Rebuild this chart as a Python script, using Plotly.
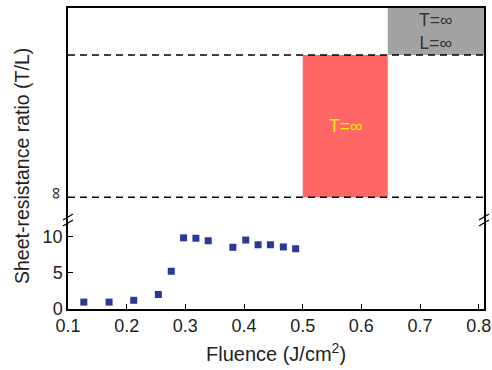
import plotly.graph_objects as go

# Data
fluence = [0.127, 0.170, 0.212, 0.254, 0.276, 0.297, 0.318, 0.339, 0.381, 0.403, 0.424, 0.445, 0.467, 0.488]
ratio = [0.95, 0.95, 1.2, 2.0, 5.2, 9.8, 9.75, 9.4, 8.5, 9.5, 8.85, 8.85, 8.55, 8.3]

x_ticks = [0.1, 0.2, 0.3, 0.4, 0.5, 0.6, 0.7, 0.8]
y_ticks = [0, 5, 10]

# symbolic positions of the broken upper part of the axis
Y_BREAK = 12.26
INF_LOW = 15.4     # "∞" level (T=∞)
INF_HIGH = 35.0    # upper level (T=∞, L=∞)
Y_TOP = 41.46
X_MAX = 0.809

red_region = [0.5, 0.645]
gray_region = [0.645, X_MAX]

fig = go.Figure()
fig.add_trace(go.Scatter(
    x=fluence, y=ratio, mode="markers",
    marker=dict(symbol="square", size=7, color="#2a3896"),
    showlegend=False, cliponaxis=False))

shapes = []
shapes.append(dict(type="rect", xref="x", yref="y", x0=red_region[0], x1=red_region[1],
                   y0=INF_LOW, y1=INF_HIGH, fillcolor="#ff6666", line=dict(width=0), layer="below"))
shapes.append(dict(type="rect", xref="x", yref="y", x0=gray_region[0], x1=gray_region[1],
                   y0=INF_HIGH, y1=Y_TOP, fillcolor="#a3a3a3", line=dict(width=0), layer="below"))
for yy in (INF_LOW, INF_HIGH):
    shapes.append(dict(type="line", xref="x", yref="y", x0=0.1, x1=X_MAX, y0=yy, y1=yy,
                       line=dict(color="black", width=1.5, dash="7px,5px"), layer="above"))
# axis break marks
for xp in (0, 1):
    for dy in (-3, 3):
        shapes.append(dict(type="line", xref="paper", yref="y", xsizemode="pixel", ysizemode="pixel",
                           xanchor=xp, yanchor=Y_BREAK, x0=-5, x1=5, y0=dy - 3, y1=dy + 3,
                           line=dict(color="black", width=1.3)))

annotations = [
    dict(x=0.5 * (red_region[0] + red_region[1]), y=0.5 * (INF_LOW + INF_HIGH), xref="x", yref="y",
         text="T=∞", showarrow=False, xanchor="center", yanchor="middle",
         font=dict(size=17.5, color="#ffee00")),
    dict(x=0.5 * (gray_region[0] + gray_region[1]), y=0.5 * (INF_HIGH + Y_TOP), xref="x", yref="y",
         text="T=∞<br>L=∞", showarrow=False, xanchor="center", yanchor="middle",
         font=dict(size=17.5, color="#333333")),
    dict(x=0, y=INF_LOW, xref="paper", yref="y", xshift=-13, yshift=4, text="∞", textangle=-90,
         xanchor="center", yanchor="middle", showarrow=False, font=dict(size=17, color="#222222")),
    dict(x=0, y=0.475, xref="paper", yref="paper", xshift=-46, text="Sheet-resistance ratio (T/L)",
         textangle=-90, xanchor="center", yanchor="middle", showarrow=False,
         font=dict(size=19.5, color="#222222")),
    dict(x=0.5, y=0, xref="paper", yref="paper", yshift=-43, text="Fluence (J/cm<sup>2</sup>)",
         xanchor="center", yanchor="middle", showarrow=False, font=dict(size=20, color="#222222")),
]

fig.update_layout(
    width=492, height=370,
    margin=dict(l=68, r=8, t=8, b=61),
    paper_bgcolor="white", plot_bgcolor="white",
    font=dict(family="Liberation Sans, Arial, sans-serif", size=18, color="#222222"),
    shapes=shapes, annotations=annotations,
    xaxis=dict(range=[0.1, X_MAX], tickvals=x_ticks, ticktext=[f"{v:.1f}" for v in x_ticks],
               ticks="inside", ticklen=5, tickwidth=1.3, tickcolor="black",
               showline=True, linecolor="black", linewidth=1.5, mirror=True, automargin=False,
               showgrid=False, zeroline=False, tickfont=dict(size=18)),
    yaxis=dict(range=[0, Y_TOP], tickvals=y_ticks, ticktext=[str(v) for v in y_ticks],
               ticks="inside", ticklen=5, tickwidth=1.3, tickcolor="black",
               showline=True, linecolor="black", linewidth=1.5, mirror=True, automargin=False,
               showgrid=False, zeroline=False, tickfont=dict(size=18)),
)

fig.write_html("out.html")
